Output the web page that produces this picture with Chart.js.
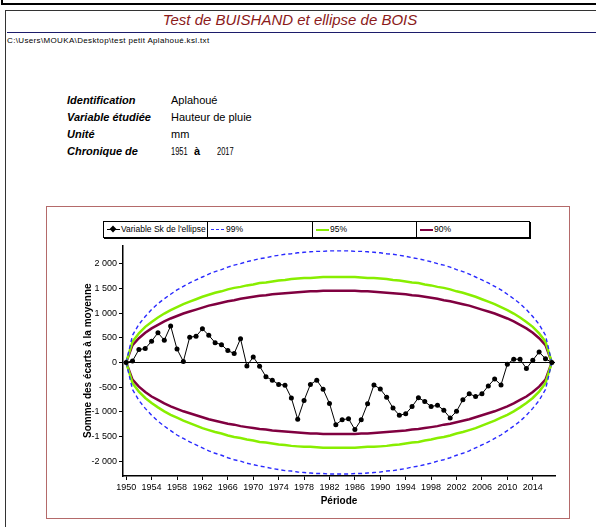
<!DOCTYPE html>
<html>
<head>
<meta charset="utf-8">
<script src="https://cdn.jsdelivr.net/npm/chart.js@4"></script>
<style>
  body { margin: 0; width: 596px; height: 527px; overflow: hidden; background: #fff; position: relative;
         font-family: Arial, "Liberation Sans", sans-serif; color: #000; }
  .abs { position: absolute; white-space: nowrap; }
  .lbl { font-weight: bold; font-style: italic; font-size: 11px; line-height: 13px; }
  .val { font-size: 11px; line-height: 13px; }
  .num { transform: scaleX(0.68); transform-origin: left center; }
  .leg { position: absolute; top: 0; height: 15px; font-size: 8.5px; line-height: 15px; }
  .sw { position: absolute; top: 7px; width: 13px; height: 0; }
</style>
</head>
<body>
<div class="abs" style="left:1px;top:-10px;width:600px;height:11px;border:2px solid #000"></div>
<div class="abs" style="left:5px;top:10px;width:600px;height:600px;border-left:1.5px solid #333;border-top:1.5px solid #333"></div>
<div class="abs" style="left:0;width:580px;top:11px;text-align:center;font-style:italic;font-size:15px;line-height:18px;color:#8b1a1a">Test de BUISHAND et ellipse de BOIS</div>
<div class="abs" style="left:7px;top:32px;width:595px;height:0;border-top:1.5px solid #1c1c6b"></div>
<div class="abs" style="left:7px;top:36px;font-size:8px;line-height:10px;letter-spacing:0.35px">C:\Users\MOUKA\Desktop\test petit Aplahoué.ksl.txt</div>

<div class="abs lbl" style="left:67px;top:94px">Identification</div>
<div class="abs lbl" style="left:67px;top:111px">Variable étudiée</div>
<div class="abs lbl" style="left:67px;top:128px">Unité</div>
<div class="abs lbl" style="left:67px;top:145px">Chronique de</div>
<div class="abs val" style="left:171px;top:94px">Aplahoué</div>
<div class="abs val" style="left:171px;top:111px">Hauteur de pluie</div>
<div class="abs val" style="left:171px;top:128px">mm</div>
<div class="abs val num" style="left:171px;top:145px">1951</div>
<div class="abs val" style="left:194px;top:145px;font-weight:bold">à</div>
<div class="abs val num" style="left:217px;top:145px">2017</div>

<div class="abs" style="left:46px;top:206px;width:522px;height:311px;border:1.5px solid #b46a6a"></div>

<div class="abs" style="left:103px;top:221px;width:425px;height:15px;border:1px solid #000;box-shadow:1px 1px 0 #000">
  <div class="leg" style="left:0;width:103px;border-right:1px solid #000">
    <div class="sw" style="left:3px;width:13px;border-top:1px solid #000"></div>
    <div class="abs" style="left:6px;top:4px;width:6px;height:6px;background:#000;transform:rotate(45deg) scale(0.8)"></div>
    <span style="position:absolute;left:17px">Variable Sk de l'ellipse</span>
  </div>
  <div class="leg" style="left:104px;width:104px;border-right:1px solid #000">
    <div class="sw" style="left:3px;border-top:1.5px dashed #3030ff"></div>
    <span style="position:absolute;left:18px">99%</span>
  </div>
  <div class="leg" style="left:209px;width:103px;border-right:1px solid #000">
    <div class="sw" style="left:3px;border-top:2px solid #88ee00"></div>
    <span style="position:absolute;left:17px">95%</span>
  </div>
  <div class="leg" style="left:313px;width:110px">
    <div class="sw" style="left:3px;border-top:2px solid #800040"></div>
    <span style="position:absolute;left:17px">90%</span>
  </div>
</div>

<div class="abs" style="left:78px;top:238px;width:490px;height:280px">
  <canvas id="myChart" width="490" height="280"></canvas>
</div>

<script>
const years = [1950, 1951, 1952, 1953, 1954, 1955, 1956, 1957, 1958, 1959,
  1960, 1961, 1962, 1963, 1964, 1965, 1966, 1967, 1968, 1969,
  1970, 1971, 1972, 1973, 1974, 1975, 1976, 1977, 1978, 1979,
  1980, 1981, 1982, 1983, 1984, 1985, 1986, 1987, 1988, 1989,
  1990, 1991, 1992, 1993, 1994, 1995, 1996, 1997, 1998, 1999,
  2000, 2001, 2002, 2003, 2004, 2005, 2006, 2007, 2008, 2009,
  2010, 2011, 2012, 2013, 2014, 2015, 2016, 2017];

// Variable Sk de l'ellipse
const sk = [0, 30, 260, 280, 430, 600, 450, 740, 270, 20,
  510, 530, 680, 550, 400, 360, 240, 180, 480, -70,
  110, -75, -290, -360, -445, -460, -720, -1150, -770, -445,
  -360, -545, -830, -1260, -1160, -1140, -1360, -1160, -835, -455,
  -540, -705, -925, -1070, -1040, -895, -715, -790, -895, -865,
  -970, -1125, -990, -755, -635, -690, -635, -475, -335, -455,
  -35, 65, 65, -125, 45, 210, 75, 0];

// ellipse 99 %
const up99 = [0, 550, 770, 930, 1070, 1190, 1290, 1380, 1470, 1540,
  1610, 1670, 1730, 1790, 1840, 1880, 1930, 1970, 2000, 2040,
  2070, 2100, 2120, 2150, 2170, 2190, 2200, 2220, 2230, 2240,
  2250, 2250, 2260, 2260, 2260, 2260, 2250, 2250, 2240, 2230,
  2220, 2200, 2190, 2170, 2150, 2120, 2100, 2070, 2040, 2000,
  1970, 1930, 1880, 1840, 1790, 1730, 1670, 1610, 1540, 1470,
  1380, 1290, 1190, 1070, 930, 770, 550, 0];
const low99 = [0, -550, -770, -930, -1070, -1190, -1290, -1380, -1470, -1540,
  -1610, -1670, -1730, -1790, -1840, -1880, -1930, -1970, -2000, -2040,
  -2070, -2100, -2120, -2150, -2170, -2190, -2200, -2220, -2230, -2240,
  -2250, -2250, -2260, -2260, -2260, -2260, -2250, -2250, -2240, -2230,
  -2220, -2200, -2190, -2170, -2150, -2120, -2100, -2070, -2040, -2000,
  -1970, -1930, -1880, -1840, -1790, -1730, -1670, -1610, -1540, -1470,
  -1380, -1290, -1190, -1070, -930, -770, -550, 0];

// ellipse 95 %
const up95 = [0, 420, 590, 720, 820, 910, 990, 1060, 1120, 1180,
  1230, 1280, 1330, 1370, 1410, 1440, 1480, 1510, 1530, 1560,
  1580, 1610, 1620, 1640, 1660, 1670, 1690, 1700, 1710, 1710,
  1720, 1730, 1730, 1730, 1730, 1730, 1730, 1720, 1710, 1710,
  1700, 1690, 1670, 1660, 1640, 1620, 1610, 1580, 1560, 1530,
  1510, 1480, 1440, 1410, 1370, 1330, 1280, 1230, 1180, 1120,
  1060, 990, 910, 820, 720, 590, 420, 0];
const low95 = [0, -420, -590, -720, -820, -910, -990, -1060, -1120, -1180,
  -1230, -1280, -1330, -1370, -1410, -1440, -1480, -1510, -1530, -1560,
  -1580, -1610, -1620, -1640, -1660, -1670, -1690, -1700, -1710, -1710,
  -1720, -1730, -1730, -1730, -1730, -1730, -1730, -1720, -1710, -1710,
  -1700, -1690, -1670, -1660, -1640, -1620, -1610, -1580, -1560, -1530,
  -1510, -1480, -1440, -1410, -1370, -1330, -1280, -1230, -1180, -1120,
  -1060, -990, -910, -820, -720, -590, -420, 0];

// ellipse 90 %
const up90 = [0, 350, 490, 600, 690, 760, 830, 890, 940, 990,
  1030, 1070, 1110, 1150, 1180, 1210, 1240, 1260, 1290, 1310,
  1330, 1350, 1360, 1380, 1390, 1400, 1410, 1420, 1430, 1440,
  1440, 1450, 1450, 1450, 1450, 1450, 1450, 1440, 1440, 1430,
  1420, 1410, 1400, 1390, 1380, 1360, 1350, 1330, 1310, 1290,
  1260, 1240, 1210, 1180, 1150, 1110, 1070, 1030, 990, 940,
  890, 830, 760, 690, 600, 490, 350, 0];
const low90 = [0, -350, -490, -600, -690, -760, -830, -890, -940, -990,
  -1030, -1070, -1110, -1150, -1180, -1210, -1240, -1260, -1290, -1310,
  -1330, -1350, -1360, -1380, -1390, -1400, -1410, -1420, -1430, -1440,
  -1440, -1450, -1450, -1450, -1450, -1450, -1450, -1440, -1440, -1430,
  -1420, -1410, -1400, -1390, -1380, -1360, -1350, -1330, -1310, -1290,
  -1260, -1240, -1210, -1180, -1150, -1110, -1070, -1030, -990, -940,
  -890, -830, -760, -690, -600, -490, -350, 0];

const xTicks = [1950, 1954, 1958, 1962, 1966, 1970, 1974, 1978, 1982, 1986,
  1990, 1994, 1998, 2002, 2006, 2010, 2014];
const yTicks = [-2000, -1500, -1000, -500, 0, 500, 1000, 1500, 2000];

const FONT = "Arial, 'Liberation Sans', sans-serif";

function pts(vals) {
  return vals.map((v, i) => ({ x: years[i], y: v }));
}

function curve(vals, color, width, dash) {
  return {
    data: pts(vals),
    borderColor: color,
    borderWidth: width,
    borderDash: dash || [],
    pointRadius: 0,
    fill: false,
  };
}

function spaced(v) {
  return String(v).replace(/\B(?=(\d{3})+(?!\d))/g, " ");
}

const ctx = document.getElementById("myChart");

new Chart(ctx, {
  type: "line",
  data: {
    datasets: [
      {
        label: "Variable Sk de l'ellipse",
        data: pts(sk),
        borderColor: "#000",
        borderWidth: 1,
        backgroundColor: "#000",
        pointRadius: 2.5,
        pointBorderWidth: 0,
        pointStyle: "circle",
      },
      curve(up99, "#2a2aff", 1.4, [4, 3]),
      curve(low99, "#2a2aff", 1.4, [4, 3]),
      curve(up95, "#88ee00", 2.5),
      curve(low95, "#88ee00", 2.5),
      curve(up90, "#800040", 2.5),
      curve(low90, "#800040", 2.5),
    ],
  },
  options: {
    responsive: false,
    animation: false,
    layout: { padding: { top: 4, right: 13, left: 0, bottom: 0 } },
    plugins: { legend: { display: false }, tooltip: { enabled: false } },
    scales: {
      x: {
        type: "linear",
        min: 1949.5,
        max: 2017.5,
        afterBuildTicks: (s) => { s.ticks = xTicks.map((v) => ({ value: v })); },
        afterFit: (s) => { s.height = 42; },
        border: { color: "#000", width: 1.5 },
        grid: { drawOnChartArea: false, tickLength: 4, tickColor: "#000" },
        ticks: { color: "#000", font: { family: FONT, size: 9 }, padding: 2,
                 maxRotation: 0, autoSkip: false, callback: (v) => String(v) },
        title: { display: true, text: "Période", color: "#000",
                 font: { family: FONT, size: 10, weight: "bold" },
                 padding: { top: 0, bottom: 11 } },
      },
      y: {
        min: -2300,
        max: 2370,
        afterBuildTicks: (s) => { s.ticks = yTicks.map((v) => ({ value: v })); },
        afterFit: (s) => { s.width = 45; },
        border: { color: "#000", width: 1.5 },
        grid: {
          tickLength: 4,
          tickColor: "#000",
          color: (c) => (c.tick && c.tick.value === 0 ? "#000" : "rgba(0,0,0,0)"),
          lineWidth: 1,
        },
        ticks: { color: "#000", font: { family: FONT, size: 9 }, padding: 2,
                 callback: (v) => spaced(v) },
        title: { display: true, text: "Somme des écarts à la moyenne", color: "#000",
                 font: { family: FONT, size: 10, weight: "bold" },
                 padding: { top: 4, bottom: 0 } },
      },
    },
  },
});
</script>
</body>
</html>
